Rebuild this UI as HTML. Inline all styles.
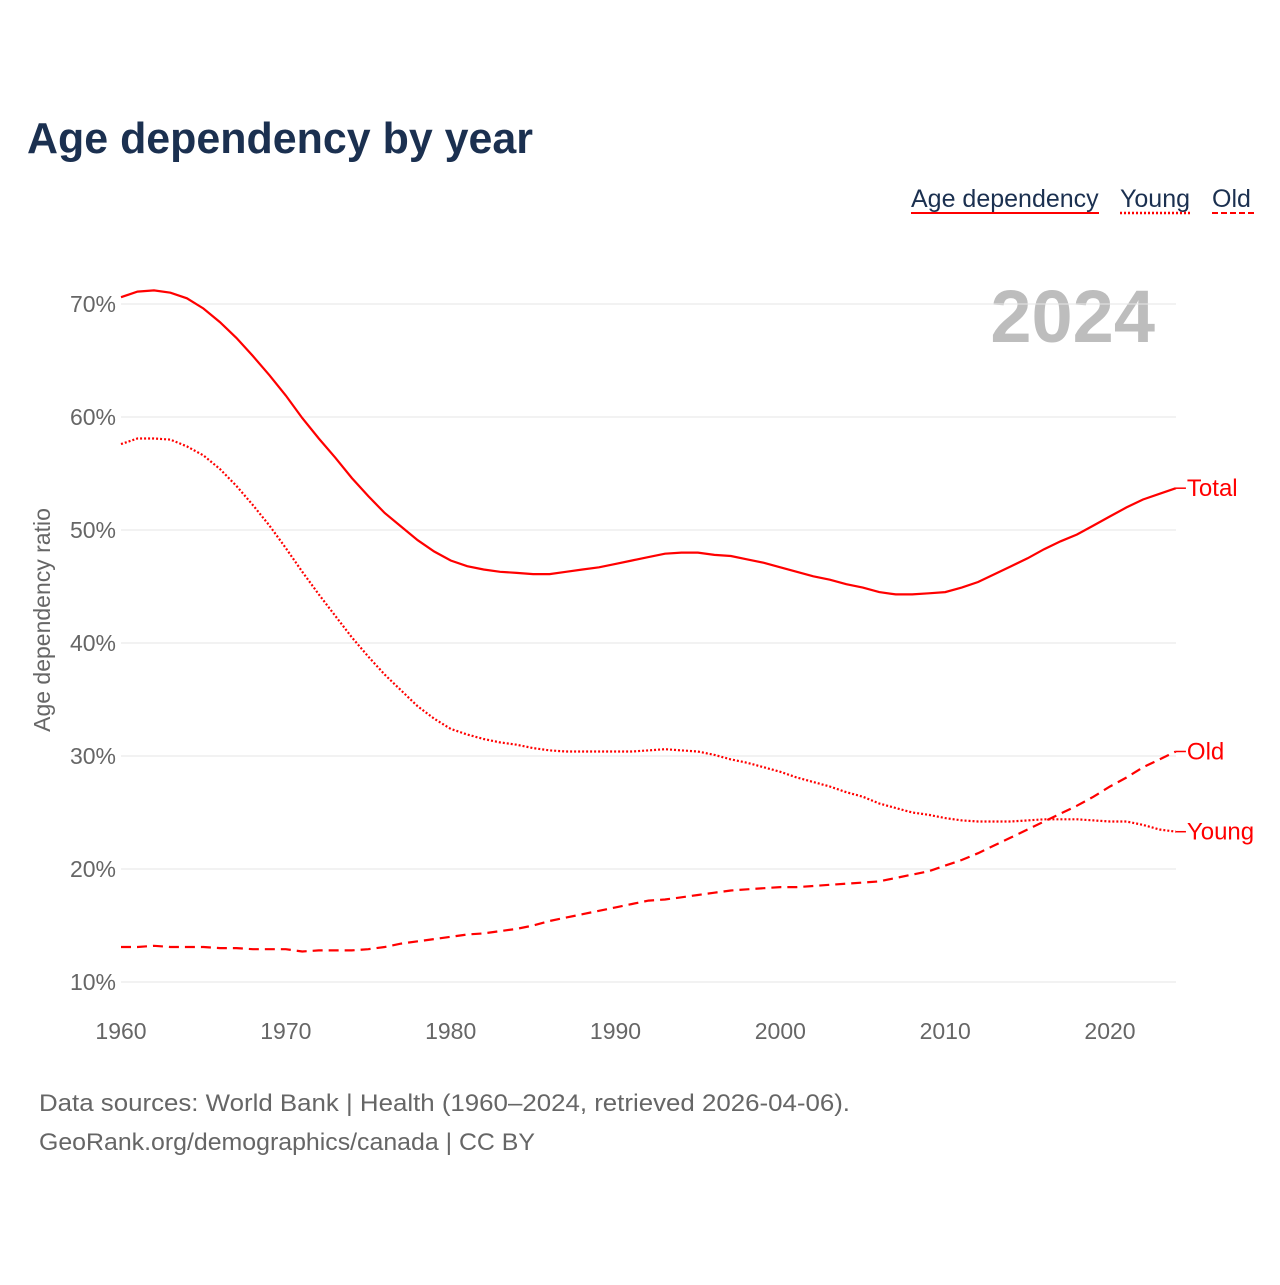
<!DOCTYPE html>
<html><head><meta charset="utf-8"><style>
body{margin:0;background:#fff;width:1280px;height:1280px;overflow:hidden;font-family:"Liberation Sans",sans-serif}
</style></head><body>
<svg id="chart" width="1280" height="1280" xmlns="http://www.w3.org/2000/svg" font-family="Liberation Sans, sans-serif">
<text x="27" y="153" font-size="44" font-weight="bold" fill="#1b3050" textLength="506" lengthAdjust="spacingAndGlyphs">Age dependency by year</text>
<g font-size="25" fill="#1b3050">
<g><text x="911" y="207">Age dependency</text><line x1="911" y1="213" x2="1099" y2="213" stroke="red" stroke-width="2"/></g>
<g><text x="1120" y="207">Young</text><line x1="1120" y1="213" x2="1190" y2="213" stroke="red" stroke-width="2.5" stroke-dasharray="2,2"/></g>
<g><text x="1212" y="207">Old</text><line x1="1212" y1="213" x2="1254" y2="213" stroke="red" stroke-width="2" stroke-dasharray="6,3"/></g>
</g>
<text x="1155" y="342" text-anchor="end" font-size="74" font-weight="bold" fill="#bdbdbd">2024</text>
<g id="grid"></g><g id="axes"></g><g id="series"></g>
<text transform="translate(50,620) rotate(-90)" text-anchor="middle" font-size="23" fill="#666">Age dependency ratio</text>
<text x="39" y="1111" font-size="24" fill="#666" textLength="811" lengthAdjust="spacingAndGlyphs">Data sources: World Bank | Health (1960–2024, retrieved 2026-04-06).</text>
<text x="39" y="1150" font-size="24" fill="#666" textLength="496" lengthAdjust="spacingAndGlyphs">GeoRank.org/demographics/canada | CC BY</text>
</svg>
<script>
const years=[];for(let y=1960;y<=2024;y++)years.push(y);
const total=[70.6,71.1,71.2,71.0,70.5,69.6,68.4,67.0,65.4,63.7,61.9,59.9,58.1,56.4,54.6,53.0,51.5,50.3,49.1,48.1,47.3,46.8,46.5,46.3,46.2,46.1,46.1,46.3,46.5,46.7,47.0,47.3,47.6,47.9,48.0,48.0,47.8,47.7,47.4,47.1,46.7,46.3,45.9,45.6,45.2,44.9,44.5,44.3,44.3,44.4,44.5,44.9,45.4,46.1,46.8,47.5,48.3,49.0,49.6,50.4,51.2,52.0,52.7,53.2,53.7];
const young=[57.6,58.1,58.1,58.0,57.4,56.6,55.4,53.9,52.2,50.4,48.4,46.3,44.3,42.4,40.5,38.8,37.2,35.8,34.4,33.3,32.4,31.9,31.5,31.2,31.0,30.7,30.5,30.4,30.4,30.4,30.4,30.4,30.5,30.6,30.5,30.4,30.1,29.7,29.4,29.0,28.6,28.1,27.7,27.3,26.8,26.4,25.8,25.4,25.0,24.8,24.5,24.3,24.2,24.2,24.2,24.3,24.4,24.4,24.4,24.3,24.2,24.2,23.9,23.5,23.3];
const old=[13.1,13.1,13.2,13.1,13.1,13.1,13.0,13.0,12.9,12.9,12.9,12.7,12.8,12.8,12.8,12.9,13.1,13.4,13.6,13.8,14.0,14.2,14.3,14.5,14.7,15.0,15.4,15.7,16.0,16.3,16.6,16.9,17.2,17.3,17.5,17.7,17.9,18.1,18.2,18.3,18.4,18.4,18.5,18.6,18.7,18.8,18.9,19.2,19.5,19.8,20.3,20.8,21.4,22.1,22.8,23.5,24.2,24.9,25.6,26.4,27.3,28.1,29.0,29.7,30.4];
const yTicks=[10,20,30,40,50,60,70];
const xTicks=[1960,1970,1980,1990,2000,2010,2020];
const NS="http://www.w3.org/2000/svg";
const x=v=>121+(v-1960)*(989/60);
const y=v=>982-(v-10)*11.3;
function mk(t,a,p){const e=document.createElementNS(NS,t);for(const k in a)e.setAttribute(k,a[k]);p.appendChild(e);return e;}
const grid=document.getElementById('grid'),axes=document.getElementById('axes'),ser=document.getElementById('series');
yTicks.forEach(t=>{
 const l=mk('line',{x1:121,x2:1176,y1:y(t),y2:y(t),stroke:'#e6e6e6','stroke-width':1},grid);
 
 
 const tx=mk('text',{x:116,y:y(t)+8,'text-anchor':'end','font-size':23,fill:'#666'},axes);tx.textContent=t+'%';
 
 
});
xTicks.forEach(t=>{
 const tx=mk('text',{x:x(t),y:1039,'text-anchor':'middle','font-size':23,fill:'#666'},axes);tx.textContent=t;
 
 
});
function line(vals,dash,name,label){
 const d=vals.map((v,i)=>(i?'L':'M')+x(years[i]).toFixed(1)+','+y(v).toFixed(1)).join('');
 const p=mk('path',{d:d,fill:'none',stroke:'red','stroke-width':2.2,'stroke-dasharray':dash},ser);
 
 
 const last=vals[vals.length-1],lx=x(years[years.length-1]);
 mk('line',{x1:lx,x2:lx+10,y1:y(last),y2:y(last),stroke:'red','stroke-width':1.5},ser);
 const t=mk('text',{x:lx+11,y:y(last)+8,'font-size':24,fill:'red'},ser);t.textContent=label;
 
 
}
line(total,'none','total-line','Total');
line(young,'2,2','young-line','Young');
line(old,'10,6','old-line','Old');
</script>
</body></html>
